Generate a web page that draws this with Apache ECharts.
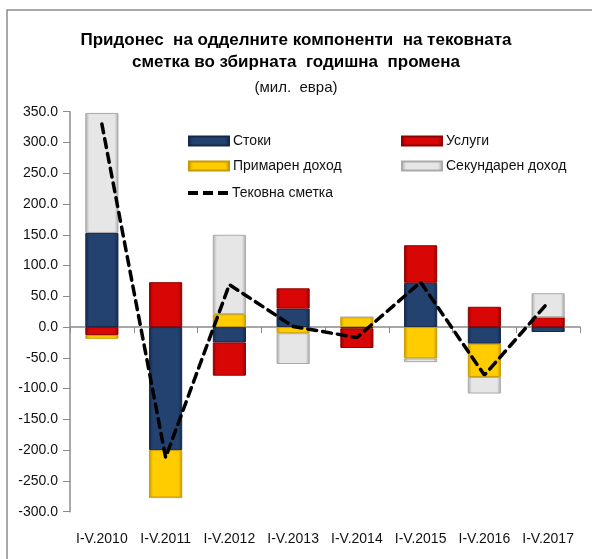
<!DOCTYPE html>
<html>
<head>
<meta charset="utf-8">
<script src="https://cdn.jsdelivr.net/npm/echarts@6/dist/echarts.min.js"></script>
<style>
  html, body { margin: 0; padding: 0; background: #fff; }
  #main { width: 592px; height: 559px; }
</style>
</head>
<body>
<div id="main"></div>
<script>
// periods on the x axis
var categories = ["I-V.2010", "I-V.2011", "I-V.2012", "I-V.2013", "I-V.2014", "I-V.2015", "I-V.2016", "I-V.2017"];
// components (mil. EUR, annual change)
var stoki = [153, -200, -25, 30, -2, 72, -27, -8];
var uslugi = [-13, 73, -54, 33, -32, 61, 33, 16];
var primarenDohod = [-6, -77, 21, -10, 16, -51, -54, 0];
var sekundarenDohod = [195, 0, 129, -50, 0, -6, -27, 39];
var tekovnaSmetka = [330, -212, 69, 1, -17, 73, -78, 40];
// y axis ticks
var yMin = -300, yMax = 350, yStep = 50;

var chartDom = document.getElementById("main");
var myChart = echarts.init(chartDom);
var font = "Liberation Sans";

function barSeries(name, data, fill, edge) {
  return {
    name: name,
    type: "bar",
    stack: "total",
    barWidth: "52%",
    itemStyle: {
      color: {
        type: "linear", x: 0, y: 0, x2: 1, y2: 0,
        colorStops: [
          { offset: 0, color: edge },
          { offset: 0.12, color: fill },
          { offset: 0.88, color: fill },
          { offset: 1, color: edge }
        ]
      },
      borderColor: edge,
      borderWidth: 1
    },
    data: data
  };
}

function legendItem(name, left, top) {
  return {
    data: [name],
    left: left,
    top: top,
    icon: "rect",
    itemWidth: 40,
    itemHeight: 9,
    itemGap: 0,
    textStyle: { fontFamily: font, fontSize: 14, color: "#111", padding: [0, 0, 0, -1] },
    selectedMode: false
  };
}

// dashed line icon for the current account legend entry
var lineLegend = legendItem("Тековна сметка", 183, 181);
lineLegend.data = [{ name: "Тековна сметка", icon: "path://M0 0h10v4h-10z M15 0h10v4h-10z M30 0h10v4h-10z", itemStyle: { color: "#000" } }];
lineLegend.itemHeight = 4;

var option = {
  animation: false,
  backgroundColor: "#fff",
  graphic: [
    {
      type: "rect",
      shape: { x: 7, y: 10, width: 600, height: 600 },
      style: { fill: "none", stroke: "#8c8c8c", lineWidth: 1.5 }
    },
    {
      type: "text", left: "center", top: 32,
      style: { text: "Придонес  на одделните компоненти  на тековната", fontFamily: font, fontWeight: "bold", fontSize: 17, fill: "#000" }
    },
    {
      type: "text", left: "center", top: 54,
      style: { text: "сметка во збирната  годишна  промена", fontFamily: font, fontWeight: "bold", fontSize: 17, fill: "#000" }
    },
    {
      type: "text", left: "center", top: 80,
      style: { text: "(мил.  евра)", fontFamily: font, fontSize: 15, fill: "#111" }
    }
  ],
  legend: [
    legendItem("Стоки", 183, 129),
    legendItem("Услуги", 396, 129),
    legendItem("Примарен доход", 183, 154),
    legendItem("Секундарен доход", 396, 154),
    lineLegend
  ],
  grid: { left: 70, right: 12, top: 111.7, bottom: 47.3 },
  xAxis: [
    {
      type: "category",
      data: categories,
      axisLine: { show: false, onZero: false },
      axisTick: { show: false },
      axisLabel: { color: "#111", fontFamily: font, fontSize: 14, margin: 20, interval: 0 }
    },
    {
      type: "category",
      data: categories,
      position: "bottom",
      axisLine: { show: true, onZero: true, lineStyle: { color: "#8c8c8c", width: 1.5 } },
      axisTick: { show: true, length: 6, lineStyle: { color: "#8c8c8c" } },
      axisLabel: { show: false }
    }
  ],
  yAxis: {
    type: "value",
    min: yMin,
    max: yMax,
    interval: yStep,
    axisLine: { show: true, lineStyle: { color: "#8c8c8c", width: 1.5 } },
    axisTick: { show: true, inside: false, length: 7, lineStyle: { color: "#8c8c8c" } },
    splitLine: { show: false },
    axisLabel: {
      color: "#111", fontFamily: font, fontSize: 14, margin: 12,
      formatter: function (v) { return v.toFixed(1); }
    }
  },
  series: [
    barSeries("Стоки", stoki, "#23426f", "#14284a"),
    barSeries("Услуги", uslugi, "#d90606", "#8f0000"),
    barSeries("Примарен доход", primarenDohod, "#ffcc00", "#c99a00"),
    barSeries("Секундарен доход", sekundarenDohod, "#e6e6e6", "#a9a9a9"),
    {
      name: "Тековна сметка",
      type: "line",
      symbol: "none",
      z: 5,
      lineStyle: { color: "#000", width: 3.5, type: [9, 6], cap: "round" },
      data: tekovnaSmetka
    }
  ]
};

option && myChart.setOption(option);
</script>
</body>
</html>
